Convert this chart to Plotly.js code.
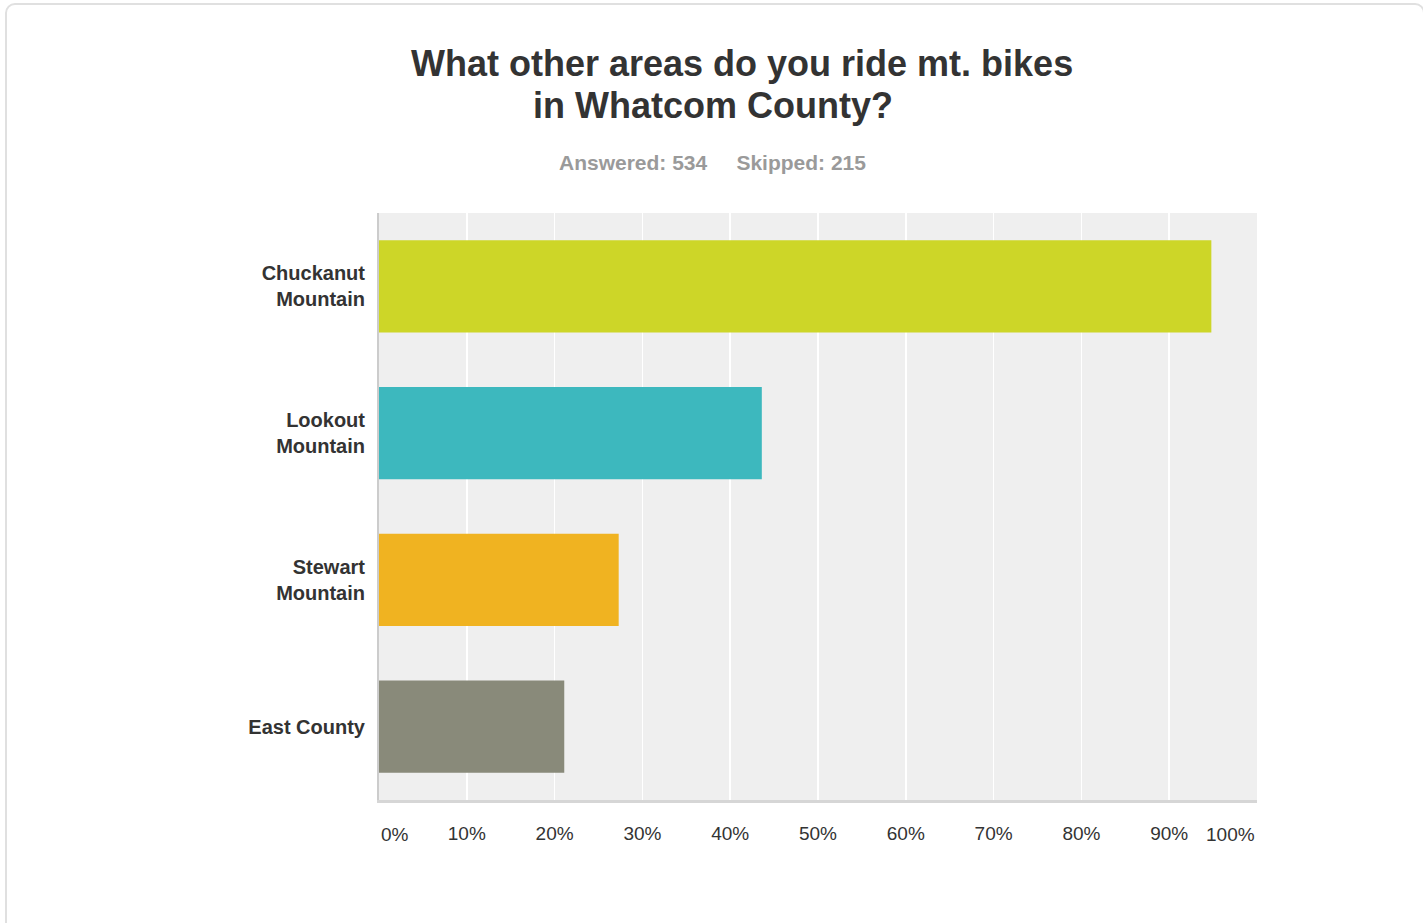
<!DOCTYPE html>
<html>
<head>
<meta charset="utf-8">
<script src="https://cdn.plot.ly/plotly-3.0.1.min.js"></script>
<style>
  html, body { margin: 0; padding: 0; background: #ffffff; overflow: hidden; }
  #frame { position: absolute; left: 5px; top: 3px; width: 1420px; height: 960px;
           border: 2px solid #e0e0e0; border-radius: 10px; box-sizing: border-box; pointer-events: none; }
  #chart { position: absolute; left: 0; top: 0; width: 1423px; height: 923px; }
</style>
</head>
<body>
<div id="chart"></div>
<div id="frame"></div>
<script>
// Data
const categories = ["Chuckanut<br>Mountain", "Lookout<br>Mountain", "Stewart<br>Mountain", "East County"];
const percentages = [94.8, 43.6, 27.3, 21.1];
const barColors = ["#cdd628", "#3db8be", "#f0b321", "#898a7a"];
const tickValues = [0, 10, 20, 30, 40, 50, 60, 70, 80, 90, 100];
const tickLabels = tickValues.map(v => v + "%");
const titleLines = ["What other areas do you ride mt. bikes", "in Whatcom County?"];
const subtitle = "Answered: 534&nbsp;&nbsp;&nbsp;&nbsp;&nbsp;Skipped: 215";

const fontFamily = "'Liberation Sans', Arial, sans-serif";

const trace = {
  type: "bar",
  orientation: "h",
  x: percentages,
  y: categories,
  marker: { color: barColors, line: { width: 0 } },
  width: 0.63,
  hoverinfo: "x+y"
};

const innerTickText = tickLabels.map((t, i) => (i === 0 || i === tickLabels.length - 1) ? "" : t);

const layout = {
  width: 1423,
  height: 923,
  margin: { l: 379, r: 166, t: 213, b: 123, pad: 0 },
  paper_bgcolor: "rgba(0,0,0,0)",
  plot_bgcolor: "#efefef",
  showlegend: false,
  font: { family: fontFamily, color: "#333333" },
  xaxis: {
    range: [0, 100],
    tickvals: tickValues,
    ticktext: innerTickText,
    showgrid: true,
    gridcolor: "#ffffff",
    gridwidth: 1.5,
    zeroline: false,
    showline: true,
    linecolor: "#d6d6d6",
    linewidth: 3,
    ticks: "",
    ticklabelstandoff: 14,
    tickfont: { family: fontFamily, size: 19, color: "#333333" },
    fixedrange: true
  },
  yaxis: {
    type: "category",
    autorange: false,
    range: [3.5, -0.5],
    showgrid: false,
    zeroline: false,
    showline: true,
    linecolor: "#cccccc",
    linewidth: 2,
    ticks: "",
    ticklabelstandoff: 8,
    tickfont: { family: fontFamily, size: 20, color: "#333333", weight: "bold" },
    fixedrange: true
  },
  annotations: [
    { xref: "paper", yref: "paper", x: 0, y: 0, yshift: -34, xanchor: "left", yanchor: "middle",
      text: tickLabels[0], showarrow: false, font: { family: fontFamily, size: 19, color: "#333333" } },
    { xref: "paper", yref: "paper", x: 1, y: 0, yshift: -34, xanchor: "right", yanchor: "middle",
      text: tickLabels[tickLabels.length - 1], showarrow: false, font: { family: fontFamily, size: 19, color: "#333333" } },
    { xref: "paper", yref: "paper", x: 742, y: 1, xanchor: "center", yanchor: "middle",
      text: "<b>" + titleLines[0] + "</b>", showarrow: false,
      font: { family: fontFamily, size: 36, color: "#333333" } },
    { xref: "paper", yref: "paper", x: 713, y: 1, xanchor: "center", yanchor: "middle",
      text: "<b>" + titleLines[1] + "</b>", showarrow: false,
      font: { family: fontFamily, size: 36, color: "#333333" } },
    { xref: "paper", yref: "paper", x: 712, y: 1, xanchor: "center", yanchor: "middle",
      text: "<b>" + subtitle + "</b>", showarrow: false,
      font: { family: fontFamily, size: 21, color: "#9a9a9a" } }
  ]
};
// vertical pixel offsets of header lines above plot top (plot top is at 213px)
layout.annotations[2].yshift = 213 - 63;
layout.annotations[3].yshift = 213 - 105;
layout.annotations[4].yshift = 213 - 162;
// header x given as page pixel: convert to plot-area fraction
[2, 3, 4].forEach(i => {
  const pageX = layout.annotations[i].x;
  layout.annotations[i].x = (pageX - 379) / (1423 - 379 - 166);
});

Plotly.newPlot("chart", [trace], layout, { displayModeBar: false, staticPlot: true });
</script>
</body>
</html>
